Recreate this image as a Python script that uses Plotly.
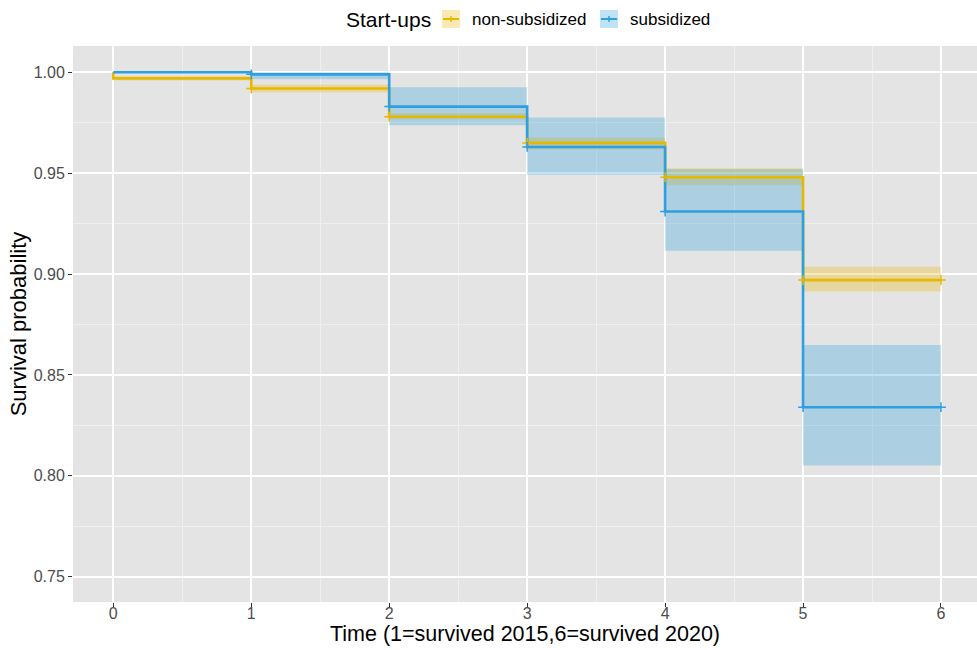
import plotly.graph_objects as go

# Kaplan-Meier survival estimates of start-ups by subsidy status
times = [0, 1, 2, 3, 4, 5, 6]

nonsub_surv = [0.997, 0.992, 0.978, 0.965, 0.948, 0.897, 0.897]
nonsub_lower = [0.996, 0.990, 0.9767, 0.9619, 0.944, 0.8914]
nonsub_upper = [0.998, 0.994, 0.9797, 0.9677, 0.9525, 0.9036]

sub_surv = [1.000, 0.999, 0.983, 0.963, 0.931, 0.834, 0.834]
sub_lower = [1.000, 0.9965, 0.9738, 0.9492, 0.9115, 0.8051]
sub_upper = [1.000, 1.000, 0.9926, 0.9776, 0.952, 0.8649]

group_names = ["non-subsidized", "subsidized"]
legend_title = "Start-ups"
y_ticks = [0.75, 0.80, 0.85, 0.90, 0.95, 1.00]
x_ticks = [0, 1, 2, 3, 4, 5, 6]

YELLOW = "#E7B800"
BLUE = "#2E9FDF"
YELLOW_FILL = "rgba(231,184,0,0.30)"
BLUE_FILL = "rgba(46,159,223,0.30)"

BASE_FONT = "Liberation Sans, Arial, sans-serif"

W, H = 977, 650
L, R, T, B = 73, 0, 46, 48
PW, PH = W - L - R, H - T - B


def px(x):
    return (x - L) / PW


def py(y):
    return (H - B - y) / PH


def band_polygon(t, lo, hi):
    xs, ys = [], []
    for i in range(len(hi)):
        xs += [t[i], t[i + 1]]
        ys += [hi[i], hi[i]]
    for i in reversed(range(len(lo))):
        xs += [t[i + 1], t[i]]
        ys += [lo[i], lo[i]]
    return xs, ys


fig = go.Figure()

for lo, hi, fillc in [(nonsub_lower, nonsub_upper, YELLOW_FILL),
                      (sub_lower, sub_upper, BLUE_FILL)]:
    bx, by = band_polygon(times, lo, hi)
    fig.add_trace(go.Scatter(x=bx, y=by, fill="toself", fillcolor=fillc,
                             line=dict(width=0), mode="lines",
                             hoverinfo="skip", showlegend=False))

# survival curves (non-subsidized starts at 1 and drops at time 0)
curves = [
    ([0] + times, [1.0] + nonsub_surv, YELLOW),
    (times, sub_surv, BLUE),
]
for xs, ys, col in curves:
    fig.add_trace(go.Scatter(x=xs, y=ys, mode="lines", line_shape="hv",
                             line=dict(color=col, width=2.6),
                             showlegend=False))

# censoring marks
for surv, col in [(nonsub_surv, YELLOW), (sub_surv, BLUE)]:
    fig.add_trace(go.Scatter(x=times[1:], y=surv[1:], mode="markers",
                             marker=dict(symbol="cross-thin", size=7,
                                         line=dict(color=col, width=1.5)),
                             showlegend=False))

# legend drawn at the top
shapes = []
annotations = []
annotations.append(dict(text=legend_title, x=px(344), y=py(19), xref="paper", yref="paper",
                        xanchor="left", yanchor="middle", showarrow=False,
                        font=dict(size=21, color="#000000")))
for (x0, label, col, fillc) in [(442, group_names[0], YELLOW, YELLOW_FILL),
                                (600, group_names[1], BLUE, BLUE_FILL)]:
    x1 = x0 + 18
    shapes.append(dict(type="rect", xref="paper", yref="paper",
                       x0=px(x0), x1=px(x1), y0=py(28), y1=py(10),
                       fillcolor=fillc, line=dict(width=0)))
    shapes.append(dict(type="line", xref="paper", yref="paper",
                       x0=px(x0 + 1), x1=px(x1 - 1), y0=py(19), y1=py(19),
                       line=dict(color=col, width=2)))
    shapes.append(dict(type="line", xref="paper", yref="paper",
                       x0=px(x0 + 9), x1=px(x0 + 9), y0=py(16), y1=py(22),
                       line=dict(color=col, width=1.5)))
    annotations.append(dict(text=label, x=px(x1 + 10), y=py(19), xref="paper", yref="paper",
                            xanchor="left", yanchor="middle", showarrow=False,
                            font=dict(size=17, color="#000000")))

fig.update_layout(
    width=W, height=H,
    margin=dict(l=L, r=R, t=T, b=B, pad=0),
    paper_bgcolor="white",
    plot_bgcolor="#E4E4E4",
    font=dict(family=BASE_FONT),
    shapes=shapes,
    annotations=annotations,
    showlegend=False,
)

fig.update_xaxes(
    range=[-0.292, 6.261],
    tickvals=x_ticks,
    ticks="outside", ticklen=4, tickwidth=1, tickcolor="#333333",
    tickfont=dict(size=16, color="#4D4D4D"),
    ticklabelstandoff=-7,
    showgrid=True, gridcolor="white", gridwidth=1.5,
    minor=dict(dtick=0.5, showgrid=True, gridcolor="#EFEFEF", gridwidth=0.8),
    zeroline=False, showline=False,
    title=dict(text="Time (1=survived 2015,6=survived 2020)",
               font=dict(size=21.5, color="#000000"), standoff=0),
)
fig.update_yaxes(
    range=[0.73746, 1.01304],
    tickvals=y_ticks,
    ticktext=[f"{v:.2f}" for v in y_ticks],
    ticks="outside", ticklen=4, tickwidth=1, tickcolor="#333333",
    tickfont=dict(size=16, color="#4D4D4D"),
    showgrid=True, gridcolor="white", gridwidth=1.5,
    minor=dict(tickvals=[0.775, 0.825, 0.875, 0.925, 0.975],
               showgrid=True, gridcolor="#EFEFEF", gridwidth=0.8),
    zeroline=False, showline=False,
    title=dict(text="Survival probability",
               font=dict(size=22, color="#000000"), standoff=0),
)

fig.write_html("out.html")
